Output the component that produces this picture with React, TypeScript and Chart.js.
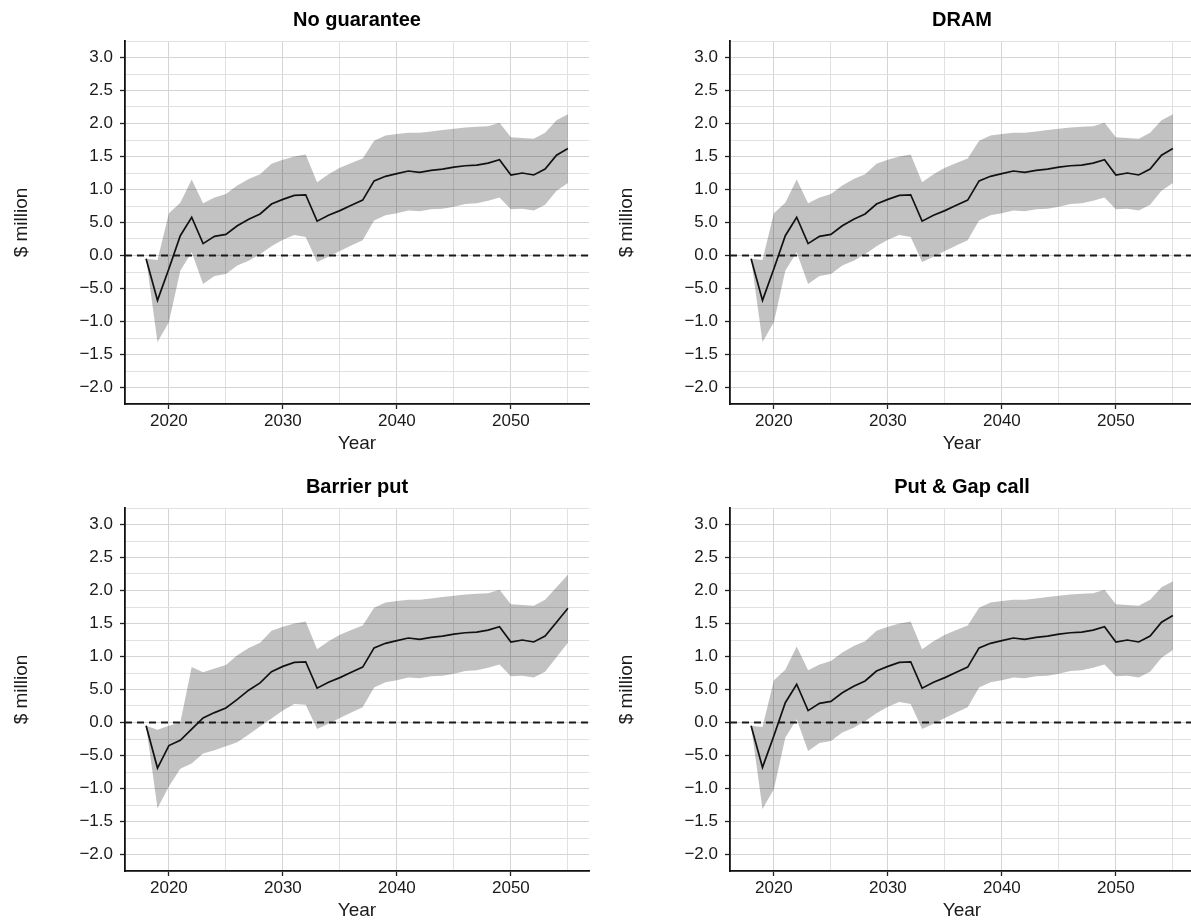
import React, { useEffect, useRef } from "react";
import { Chart, registerables } from "chart.js";

Chart.register(...registerables);

// ---------- data ----------
const years = [
  2018, 2019, 2020, 2021, 2022, 2023, 2024, 2025, 2026, 2027,
  2028, 2029, 2030, 2031, 2032, 2033, 2034, 2035, 2036, 2037,
  2038, 2039, 2040, 2041, 2042, 2043, 2044, 2045, 2046, 2047,
  2048, 2049, 2050, 2051, 2052, 2053, 2054, 2055,
];

const baseMedian = [
  -0.05, -0.68, -0.2, 0.3, 0.58, 0.18, 0.29, 0.32, 0.45, 0.55,
  0.63, 0.78, 0.85, 0.91, 0.92, 0.52, 0.61, 0.68, 0.76, 0.84,
  1.13, 1.2, 1.24, 1.28, 1.26, 1.29, 1.31, 1.34, 1.36, 1.37,
  1.4, 1.45, 1.22, 1.25, 1.22, 1.31, 1.52, 1.62,
];
const baseUpper = [
  -0.05, -0.07, 0.64, 0.8, 1.15, 0.79, 0.88, 0.93, 1.06, 1.16,
  1.23, 1.39, 1.45, 1.5, 1.53, 1.11, 1.23, 1.33, 1.4, 1.47,
  1.74, 1.82, 1.84, 1.86, 1.86, 1.88, 1.9, 1.92, 1.94, 1.95,
  1.96, 2.01, 1.79, 1.78, 1.77, 1.86, 2.05, 2.14,
];
const baseLower = [
  -0.05, -1.31, -1.01, -0.23, 0.05, -0.43, -0.31, -0.28, -0.15, -0.08,
  0.02, 0.14, 0.24, 0.31, 0.28, -0.1, -0.02, 0.07, 0.15, 0.23,
  0.53, 0.61, 0.64, 0.68, 0.67, 0.7, 0.71, 0.74, 0.78, 0.79,
  0.83, 0.88, 0.7, 0.71, 0.68, 0.77, 0.98, 1.1,
];

const barrierMedian = [
  -0.05, -0.69, -0.35, -0.27, -0.1, 0.07, 0.15, 0.22, 0.35, 0.49,
  0.6, 0.77, 0.85, 0.91, 0.92, 0.52, 0.61, 0.68, 0.76, 0.84,
  1.13, 1.2, 1.24, 1.28, 1.26, 1.29, 1.31, 1.34, 1.36, 1.37,
  1.4, 1.45, 1.22, 1.25, 1.22, 1.31, 1.52, 1.73,
];
const barrierUpper = [
  -0.05, -0.11, -0.05, 0.0, 0.84, 0.76, 0.82, 0.87, 1.02, 1.13,
  1.21, 1.39, 1.45, 1.5, 1.53, 1.11, 1.23, 1.33, 1.4, 1.47,
  1.74, 1.82, 1.84, 1.86, 1.86, 1.88, 1.9, 1.92, 1.94, 1.95,
  1.96, 2.01, 1.79, 1.78, 1.77, 1.86, 2.05, 2.24,
];
const barrierLower = [
  -0.05, -1.3, -0.97, -0.7, -0.62, -0.47, -0.42, -0.36, -0.3, -0.18,
  -0.06, 0.06, 0.18, 0.28, 0.27, -0.1, -0.02, 0.07, 0.15, 0.23,
  0.53, 0.61, 0.64, 0.68, 0.67, 0.7, 0.71, 0.74, 0.78, 0.79,
  0.83, 0.88, 0.7, 0.71, 0.68, 0.77, 0.99, 1.21,
];

const panelTitles = ["No guarantee", "DRAM", "Barrier put", "Put & Gap call"];

const xMin = 2016.15;
const xMax = 2056.85;
const yMin = -2.25;
const yMax = 3.25;
const xGridYears = [2020, 2025, 2030, 2035, 2040, 2045, 2050, 2055];
const xLabelYears = [2020, 2030, 2040, 2050];
const yTickValues = [-2, -1.5, -1, -0.5, 0, 0.5, 1, 1.5, 2, 2.5, 3];
const yTickLabels = ["\u22122.0", "\u22121.5", "\u22121.0", "\u22125.0", "0.0", "5.0", "1.0", "1.5", "2.0", "2.5", "3.0"];
const yGridValues = [
  -2.25, -2, -1.75, -1.5, -1.25, -1, -0.75, -0.5, -0.25, 0, 0.25, 0.5,
  0.75, 1, 1.25, 1.5, 1.75, 2, 2.25, 2.5, 2.75, 3, 3.25,
];
const zeroLine = [0, 0];

const FONT = "'Liberation Sans', Arial, sans-serif";

type PanelProps = {
  title: string;
  median: number[];
  lower: number[];
  upper: number[];
  left: number;
  top: number;
  width: number;
  height: number;
  plotLeft: number;
  plotRight: number;
  plotTop: number;
  plotBottom: number;
};

const textPlugin = {
  id: "panelTexts",
  afterDraw(chart: any) {
    const { ctx, chartArea } = chart;
    const title = chart.options.plugins.panelTexts.title;
    const cx = (chartArea.left + chartArea.right) / 2;
    const cy = (chartArea.top + chartArea.bottom) / 2;
    ctx.save();
    ctx.fillStyle = "#000";
    ctx.textAlign = "center";
    ctx.textBaseline = "middle";
    ctx.font = `bold 20px ${FONT}`;
    ctx.fillText(title, cx, chartArea.top - 21);
    ctx.font = `19px ${FONT}`;
    ctx.fillStyle = "#1a1a1a";
    ctx.fillText("Year", cx, chartArea.bottom + 40);
    ctx.translate(chartArea.left - 103, cy);
    ctx.rotate(-Math.PI / 2);
    ctx.fillText("$ million", 0, 0);
    ctx.restore();
  },
};

function Panel(p: PanelProps) {
  const ref = useRef<HTMLCanvasElement | null>(null);
  useEffect(() => {
    if (!ref.current) return;
    const isMajorX = (v: number) => xLabelYears.includes(v);
    const isMajorY = (v: number) => yTickValues.some((t) => Math.abs(t - v) < 1e-9);
    const chart = new Chart(ref.current, {
      type: "line",
      data: {
        datasets: [
          {
            label: "median",
            data: years.map((x, i) => ({ x, y: p.median[i] })),
            borderColor: "#111",
            borderWidth: 1.7,
            pointRadius: 0,
            fill: false,
            order: 0,
          },
          {
            label: "zero",
            data: [
              { x: xMin, y: zeroLine[0] },
              { x: xMax, y: zeroLine[1] },
            ],
            borderColor: "#1a1a1a",
            borderWidth: 1.8,
            borderDash: [7, 5],
            pointRadius: 0,
            fill: false,
            order: 1,
          },
          {
            label: "upper",
            data: years.map((x, i) => ({ x, y: p.upper[i] })),
            borderWidth: 0,
            borderColor: "rgba(0,0,0,0)",
            backgroundColor: "rgba(0,0,0,0.24)",
            pointRadius: 0,
            fill: "+1",
            order: 3,
          },
          {
            label: "lower",
            data: years.map((x, i) => ({ x, y: p.lower[i] })),
            borderWidth: 0,
            borderColor: "rgba(0,0,0,0)",
            pointRadius: 0,
            fill: false,
            order: 2,
          },
        ],
      },
      options: {
        animation: false,
        responsive: false,
        events: [],
        layout: {
          padding: {
            left: 0,
            top: p.plotTop,
            right: p.width - p.plotRight,
            bottom: 0,
          },
        },
        plugins: {
          legend: { display: false },
          tooltip: { enabled: false },
          title: { display: false },
          panelTexts: { title: p.title },
        } as any,
        scales: {
          x: {
            type: "linear",
            min: xMin,
            max: xMax,
            afterBuildTicks: (scale: any) => {
              scale.ticks = xGridYears.map((v) => ({ value: v }));
            },
            afterFit: (scale: any) => {
              scale.height = p.height - p.plotBottom;
            },
            ticks: {
              autoSkip: false,
              maxRotation: 0,
              padding: 2,
              color: "#1a1a1a",
              font: { family: FONT, size: 17 },
              callback: (v: any) => (isMajorX(Number(v)) ? String(v) : ""),
            },
            grid: {
              color: (c: any) => (isMajorX(c.tick?.value) ? "#d4d4d4" : "#e1e1e1"),
              lineWidth: 1,
              tickLength: 5,
              tickWidth: 1.3,
              tickColor: (c: any) => (isMajorX(c.tick?.value) ? "#222" : "rgba(0,0,0,0)"),
            },
            border: { display: true, color: "#111", width: 1.8 },
          },
          y: {
            type: "linear",
            min: yMin,
            max: yMax,
            afterBuildTicks: (scale: any) => {
              scale.ticks = yGridValues.map((v) => ({ value: v }));
            },
            afterFit: (scale: any) => {
              scale.width = p.plotLeft;
            },
            ticks: {
              autoSkip: false,
              padding: 7,
              color: "#1a1a1a",
              font: { family: FONT, size: 17 },
              callback: (v: any) => {
                const idx = yTickValues.findIndex((t) => Math.abs(t - Number(v)) < 1e-9);
                return idx >= 0 ? yTickLabels[idx] : "";
              },
            },
            grid: {
              color: (c: any) => (isMajorY(c.tick?.value) ? "#d4d4d4" : "#e1e1e1"),
              lineWidth: 1,
              tickLength: 5,
              tickWidth: 1.3,
              tickColor: (c: any) => (isMajorY(c.tick?.value) ? "#222" : "rgba(0,0,0,0)"),
            },
            border: { display: true, color: "#111", width: 1.8 },
          },
        },
      },
      plugins: [textPlugin],
    } as any);
    return () => chart.destroy();
  }, []);
  return (
    <canvas
      ref={ref}
      width={p.width}
      height={p.height}
      style={{ position: "absolute", left: p.left, top: p.top, width: p.width, height: p.height, display: "block" }}
    />
  );
}

export default function App() {
  const topPlot = { plotTop: 41, plotBottom: 404 };
  const botPlot = { plotTop: 48, plotBottom: 411 };
  const leftPlot = { plotLeft: 125, plotRight: 589 };
  const rightPlot = { plotLeft: 130, plotRight: 594 };
  return (
    <div
      style={{
        position: "absolute",
        left: 0,
        top: 0,
        width: 1191,
        height: 922,
        overflow: "hidden",
        background: "#fff",
      }}
    >
      <Panel title={panelTitles[0]} median={baseMedian} lower={baseLower} upper={baseUpper}
        left={0} top={0} width={600} height={460} {...leftPlot} {...topPlot} />
      <Panel title={panelTitles[1]} median={baseMedian} lower={baseLower} upper={baseUpper}
        left={600} top={0} width={600} height={460} {...rightPlot} {...topPlot} />
      <Panel title={panelTitles[2]} median={barrierMedian} lower={barrierLower} upper={barrierUpper}
        left={0} top={460} width={600} height={462} {...leftPlot} {...botPlot} />
      <Panel title={panelTitles[3]} median={baseMedian} lower={baseLower} upper={baseUpper}
        left={600} top={460} width={600} height={462} {...rightPlot} {...botPlot} />
    </div>
  );
}
